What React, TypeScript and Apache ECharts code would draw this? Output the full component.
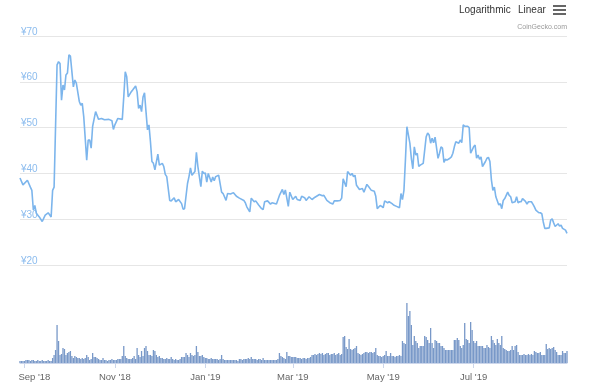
import React, { useEffect, useRef } from "react";
import * as echarts from "echarts";

// Days counted from 2018-09-01 (day 0)
const priceDays = [
  -3, -1, 2, 4, 5, 6, 7, 8, 10, 12, 14, 16, 18, 19, 20, 22, 23, 24, 25, 26, 27, 28, 29, 30, 31, 33, 34, 35, 37, 38,
  39, 40, 42, 43, 44, 45, 46, 48, 50, 52, 54, 57, 59, 60, 61, 63, 66, 67, 68, 69, 70, 72, 73, 75, 76, 77, 78, 79, 80, 81,
  82, 83, 84, 85, 86, 87, 88, 90, 91, 93, 94, 95, 96, 98, 99, 101, 102, 104, 106, 107, 108, 110, 111, 112, 113, 115, 116, 117, 119, 120,
  121, 122, 123, 124, 126, 127, 128, 129, 131, 133, 134, 136, 137, 139, 141, 143, 145, 148, 149, 150, 152, 153, 155, 156, 158, 160, 161, 162, 164, 166,
  167, 170, 172, 174, 175, 176, 178, 179, 181, 183, 184, 186, 187, 189, 190, 192, 194, 196, 199, 201, 202, 204, 206, 208, 209, 211, 213, 214, 215, 217,
  218, 220, 221, 222, 223, 224, 226, 228, 229, 231, 232, 234, 236, 237, 238, 240, 241, 242, 243, 245, 246, 248, 249, 251, 253, 254, 255, 256, 257, 258,
  260, 261, 262, 263, 264, 265, 266, 267, 269, 270, 271, 272, 273, 274, 275, 276, 277, 279, 280, 281, 282, 283, 284, 285, 287, 288, 289, 290, 291, 293,
  294, 295, 296, 297, 299, 300, 301, 303, 304, 305, 306, 307, 308, 309, 311, 312, 313, 314, 315, 316, 317, 318, 320, 321, 322, 323, 324, 326, 327, 328,
  329, 331, 332, 333, 334, 335, 336, 338, 339, 340, 342, 343, 344, 345, 347, 348, 349, 350, 351, 352, 354, 355, 356, 357, 358, 360, 361, 362, 363, 365,
  366,
];
const priceValues = [
  39, 37.5, 38.5, 37, 36.3, 32, 33, 31.3, 30.5, 29.5, 30.9, 31.4, 30.5, 36.3, 37, 63.7, 64.4, 64, 56, 59.3, 58.2, 61.5, 61.9, 65.9, 65.6, 58.9, 60.4, 59.7, 55.7, 54.9,
  55.3, 52.4, 42.9, 47.3, 47.3, 45.5, 50.3, 53.5, 51.8, 52, 51.7, 51.8, 51.5, 49.6, 50.6, 52, 51.8, 56.7, 62.2, 61.1, 56.7, 57.8, 58.2, 59.1, 57.8, 54.2, 54.9, 53.5, 56.7, 57.6,
  53.5, 49.5, 50.6, 46.9, 42.6, 42.2, 40.8, 44.2, 41.8, 42.2, 41.5, 39.8, 39.3, 34.1, 34, 34.7, 33.8, 34.3, 33.4, 32.2, 32.3, 37.8, 39.3, 41.2, 39.6, 40.4, 44.6, 41.5, 37.1, 40.5,
  40, 40.1, 38.1, 40, 38.1, 39.2, 38.4, 39.3, 39.6, 35.9, 35.6, 34.1, 35.6, 35.5, 35.8, 35, 34.6, 34.1, 33.6, 32.7, 31.6, 34.6, 33.8, 34, 33.1, 32.3, 32.1, 33.8, 34, 33.3,
  33.6, 33.3, 35.2, 36.5, 35.4, 36.4, 32.8, 35.9, 34.3, 35, 34.3, 34.1, 35, 34.7, 34.1, 34.9, 34.3, 34.8, 35.4, 35.1, 35.2, 34.1, 33.6, 33.3, 34, 34, 34.1, 34.6, 38.8, 37.1,
  40.4, 39.6, 40, 39.3, 39.6, 37.4, 36.5, 36.7, 35.9, 37.6, 37.2, 36.3, 36.1, 35, 32.3, 33, 32.8, 32.5, 34, 33.6, 33.8, 33.4, 33.1, 32.8, 32.5, 35.6, 34.3, 36.3, 42.9, 50.2,
  46.6, 43.3, 41, 45.8, 44, 44.4, 41.5, 41.8, 42.2, 45.1, 48, 48.8, 48.4, 46.6, 47.7, 46.7, 47.9, 43.3, 44.4, 45.8, 45.5, 42.4, 43.1, 42.9, 43.3, 43.6, 44.4, 45.8, 46.9, 46.6,
  47.3, 46.7, 50.6, 50.3, 50.3, 50, 44.4, 45.8, 46.2, 43.3, 44, 43.1, 43.6, 41.5, 42.6, 43.3, 43.5, 42.6, 38.6, 36.3, 37, 34.9, 33.1, 33.4, 32.3, 34.1, 34.5, 35.9, 35.2, 34.9,
  33.6, 33.8, 34.9, 33.6, 33.8, 33.8, 34.5, 33.9, 33.3, 33.8, 33.8, 33.3, 32.7, 32, 31.4, 31.4, 31.2, 29.4, 28, 28, 28.1, 29.8, 30.1, 29.2, 28.4, 29, 28.5, 28.7, 28, 27.6,
  26.9,
];

const volumeStartDay = -3;
const volumeValues = [
  2, 2, 2, 2, 3, 3, 3, 2,
  3, 3, 2, 2, 3, 2, 2, 3, 2, 2, 2, 3, 2, 2,
  5, 8, 13, 38, 22, 8, 9, 15, 14, 8, 10, 11,
  12, 7, 5, 7, 6, 5, 5, 4, 5, 4,
  5, 8, 6, 3, 4, 10, 6, 6, 5, 4,
  3, 3, 5, 3, 3, 2, 3, 3, 4, 3,
  3, 3, 4, 4, 4, 7, 17, 7, 5, 4,
  4, 4, 5, 7, 4, 15, 8, 6, 12, 7,
  15, 17, 12, 8, 8, 7, 13, 12, 8, 6,
  7, 5, 5, 4, 4, 5, 4, 4, 6, 4,
  3, 4, 3, 3, 4, 6, 6, 6, 10, 8,
  6, 10, 8, 7, 8, 17, 11, 7, 7, 8,
  6, 5, 5, 4, 4, 5, 4, 4, 4, 4,
  3, 4, 8, 4, 3, 3, 3, 3, 3, 3,
  3, 3, 3, 2, 4, 4, 3, 4, 4, 4,
  5, 4, 6, 4, 4, 4, 3, 4, 4, 3,
  5, 3, 3, 3, 3, 3, 3, 3, 3, 3,
  4, 10, 7, 6, 5, 4, 11, 7, 7, 6,
  6, 6, 6, 5, 5, 5, 4, 5, 5, 4,
  5, 5, 6, 8, 8, 9, 8, 9, 10, 9,
  10, 8, 9, 10, 10, 8, 9, 9, 10, 8,
  9, 10, 8, 9, 26, 27, 16, 14, 24, 14,
  13, 14, 15, 17, 10, 9, 8, 9, 10, 11,
  11, 10, 11, 11, 10, 11, 15, 8, 7, 7,
  6, 7, 8, 12, 7, 7, 10, 7, 7, 6,
  7, 7, 8, 7, 22, 20, 19, 60, 47, 52,
  38, 18, 27, 22, 20, 15, 17, 17, 17, 27,
  26, 23, 20, 35, 20, 15, 23, 22, 20, 20,
  17, 17, 15, 13, 13, 13, 13, 13, 13, 23,
  23, 25, 23, 17, 15, 18, 40, 24, 23, 20,
  41, 33, 22, 20, 22, 17, 17, 17, 17, 15,
  15, 18, 16, 15, 27, 23, 20, 18, 24, 20,
  18, 27, 15, 14, 13, 12, 12, 13, 17, 13,
  17, 18, 11, 8, 8, 8, 9, 8, 8, 9,
  8, 9, 8, 12, 11, 10, 10, 11, 8, 8,
  8, 19, 14, 15, 14, 15, 16, 13, 11, 8,
  8, 8, 12, 10, 10, 12,
];

const tickDays = [0, 61, 122, 181, 242, 303];
const tickLabels = ["Sep '18", "Nov '18", "Jan '19", "Mar '19", "May '19", "Jul '19"];

export default function App() {
  const ref = useRef<HTMLDivElement>(null);
  useEffect(() => {
    const chart = echarts.init(ref.current!, null, { renderer: "svg" });
    const font = "'Liberation Sans', Arial, Helvetica, sans-serif";
    const priceData = priceDays.map((d, i) => [d, priceValues[i]]);
    const volData = volumeValues.map((v, i) => [volumeStartDay + i, v]);
    chart.setOption({
      animation: false,
      textStyle: { fontFamily: font },
      grid: [
        { left: 20, right: 32, top: 36, height: 229 },
        { left: 20, right: 32, top: 298, height: 65 },
      ],
      xAxis: [
        { type: "value", gridIndex: 0, min: -3, max: 366, show: false },
        {
          type: "value",
          gridIndex: 1,
          min: -3,
          max: 366,
          splitLine: { show: false },
          axisLine: { show: true, lineStyle: { color: "#ccd6eb" } },
          axisTick: { show: true, customValues: tickDays, length: 5, lineStyle: { color: "#ccd6eb" } },
          axisLabel: {
            customValues: tickDays,
            color: "#666",
            fontSize: 9.5,
            fontFamily: font,
            margin: 8,
            formatter: (v: number) => {
              const i = tickDays.indexOf(v);
              if (i < 0) return "";
              return i === 0 ? `{first|${tickLabels[0]}}` : tickLabels[i];
            },
            rich: { first: { padding: [0, 0, 0, 20], color: "#666", fontSize: 9.5, fontFamily: font } },
          },
        },
      ],
      yAxis: [
        {
          type: "value",
          gridIndex: 0,
          min: 20,
          max: 70,
          interval: 10,
          splitLine: { lineStyle: { color: "#e6e6e6" } },
          axisLine: { show: false },
          axisTick: { show: false },
          axisLabel: {
            inside: true,
            verticalAlign: "bottom",
            margin: 1,
            color: "#8cbcee",
            fontSize: 10,
            fontFamily: font,
            formatter: (v: number) => "¥" + v,
          },
        },
        { type: "value", gridIndex: 1, min: 0, max: 65, show: false },
      ],
      series: [
        {
          type: "line",
          xAxisIndex: 0,
          yAxisIndex: 0,
          data: priceData,
          showSymbol: false,
          symbol: "none",
          lineStyle: { color: "#7cb5ec", width: 1.6 },
        },
        {
          type: "bar",
          xAxisIndex: 1,
          yAxisIndex: 1,
          data: volData,
          barWidth: 1.3,
          itemStyle: { color: "#7898c8" },
        },
      ],
      graphic: [
        { type: "text", left: 459, top: 4, style: { text: "Logarithmic", fontSize: 10, fill: "#333", fontFamily: font } },
        { type: "text", left: 518, top: 4, style: { text: "Linear", fontSize: 10, fill: "#333", fontFamily: font } },
        { type: "rect", shape: { x: 553, y: 5, width: 13, height: 2 }, style: { fill: "#666" } },
        { type: "rect", shape: { x: 553, y: 9, width: 13, height: 2 }, style: { fill: "#666" } },
        { type: "rect", shape: { x: 553, y: 13, width: 13, height: 2 }, style: { fill: "#666" } },
        { type: "text", right: 32, top: 23, style: { text: "CoinGecko.com", fontSize: 7, fill: "#999", fontFamily: font } },
      ],
    });
    return () => chart.dispose();
  }, []);
  return <div ref={ref} style={{ position: "fixed", left: 0, top: 0, width: 599, height: 390 }} />;
}
